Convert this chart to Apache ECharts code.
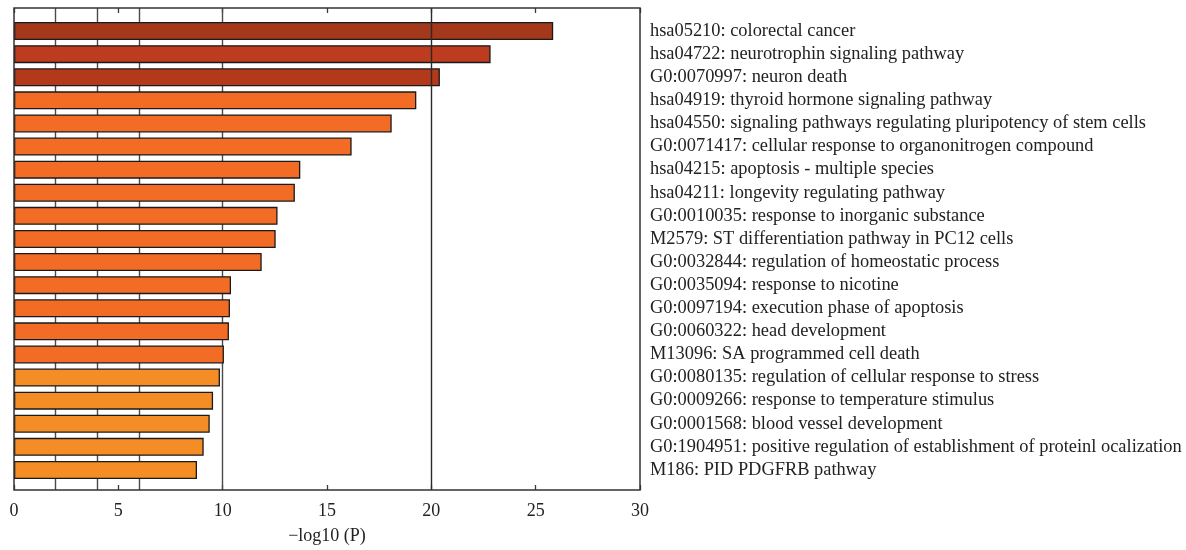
<!DOCTYPE html>
<html>
<head>
<meta charset="utf-8">
<script src="https://cdn.jsdelivr.net/npm/echarts@6/dist/echarts.min.js"></script>
<style>
  html, body { margin: 0; padding: 0; background: #fff; }
  #chart { width: 1186px; height: 550px; }
</style>
</head>
<body>
<div id="chart"></div>
<script>
// Enriched terms, top to bottom
const terms = [
  'hsa05210: colorectal cancer',
  'hsa04722: neurotrophin signaling pathway',
  'G0:0070997: neuron death',
  'hsa04919: thyroid hormone signaling pathway',
  'hsa04550: signaling pathways regulating pluripotency of stem cells',
  'G0:0071417: cellular response to organonitrogen compound',
  'hsa04215: apoptosis - multiple species',
  'hsa04211: longevity regulating pathway',
  'G0:0010035: response to inorganic substance',
  'M2579: ST differentiation pathway in PC12 cells',
  'G0:0032844: regulation of homeostatic process',
  'G0:0035094: response to nicotine',
  'G0:0097194: execution phase of apoptosis',
  'G0:0060322: head development',
  'M13096: SA programmed cell death',
  'G0:0080135: regulation of cellular response to stress',
  'G0:0009266: response to temperature stimulus',
  'G0:0001568: blood vessel development',
  'G0:1904951: positive regulation of establishment of proteinl ocalization',
  'M186: PID PDGFRB pathway'
];

// -log10(P) for each term
const logP = [25.84, 22.84, 20.41, 19.28, 18.10, 16.18, 13.72, 13.46, 12.63, 12.54,
              11.87, 10.40, 10.35, 10.30, 10.06, 9.87, 9.54, 9.38, 9.09, 8.77];

// x-axis ticks
const xTicks = [0, 5, 10, 15, 20, 25, 30];
const xName = '\u2212log10 (P)';

// reference lines across the plot
const lowLines = [2, 4, 6, 10];
const highLines = [20];

// fill colours by rank
function barColor(i) {
  if (i === 0) return '#A3381A';
  if (i === 1) return '#BD3B1E';
  if (i === 2) return '#B4391B';
  if (i < 15) return '#F36C25';
  return '#F58D26';
}

const FONT = '"Liberation Serif", "DejaVu Serif", serif';
const L = 14, R = 1186 - 640, TOP = 8, BOTTOM = 550 - 493;
const BAR_TOP = 19.5, BAR_BOTTOM = 550 - 481.5;

const chart = echarts.init(document.getElementById('chart'), null, { renderer: 'canvas' });

chart.setOption({
  animation: false,
  backgroundColor: '#fff',
  grid: [
    { left: L, right: R, top: TOP, bottom: BOTTOM, show: true, borderColor: '#333', borderWidth: 1.5, backgroundColor: 'transparent', z: 20 },
    { left: L, right: R, top: BAR_TOP, bottom: BAR_BOTTOM }
  ],
  xAxis: [
    {
      gridIndex: 0, type: 'value', position: 'bottom',
      min: xTicks[0], max: xTicks[xTicks.length - 1], interval: xTicks[1] - xTicks[0],
      axisLine: { show: false },
      axisTick: { show: true, inside: true, length: 5, lineStyle: { color: '#3a3a3a', width: 1.3 } },
      splitLine: { show: false },
      axisLabel: { margin: 12, color: '#222', fontFamily: FONT, fontSize: 18 },
      name: xName, nameLocation: 'middle', nameGap: 37,
      nameTextStyle: { color: '#222', fontFamily: FONT, fontSize: 18 }
    },
    {
      gridIndex: 0, type: 'value', position: 'top',
      min: xTicks[0], max: xTicks[xTicks.length - 1], interval: xTicks[1] - xTicks[0],
      axisLine: { show: false },
      axisTick: { show: true, inside: true, length: 5, lineStyle: { color: '#3a3a3a', width: 1.3 } },
      splitLine: { show: false },
      axisLabel: { show: false }
    },
    {
      gridIndex: 1, type: 'value',
      min: xTicks[0], max: xTicks[xTicks.length - 1],
      show: false
    }
  ],
  yAxis: [
    { gridIndex: 0, type: 'value', min: 0, max: 1, show: false },
    {
      gridIndex: 1, type: 'category', data: terms, inverse: true, position: 'right',
      axisLine: { show: false }, axisTick: { show: false }, splitLine: { show: false },
      axisLabel: { interval: 0, margin: 10, align: 'left', color: '#222', fontFamily: FONT, fontSize: 18.4 }
    }
  ],
  series: [
    {
      type: 'scatter', xAxisIndex: 0, yAxisIndex: 0, data: [], z: 1, silent: true,
      markLine: {
        z: 1, silent: true, symbol: 'none', label: { show: false },
        lineStyle: { color: '#4a4a4a', width: 1.4, type: 'solid' },
        data: lowLines.map(v => ({ xAxis: v }))
      }
    },
    {
      type: 'bar', xAxisIndex: 2, yAxisIndex: 1, z: 3,
      barWidth: 18,
      data: logP.map((v, i) => ({
        value: v,
        itemStyle: { color: barColor(i), borderColor: '#1a1a1a', borderWidth: 1.3 }
      }))
    },
    {
      type: 'scatter', xAxisIndex: 0, yAxisIndex: 0, data: [], z: 10, silent: true,
      markLine: {
        z: 10, silent: true, symbol: 'none', label: { show: false },
        lineStyle: { color: '#2a2a2a', width: 1.4, type: 'solid' },
        data: highLines.map(v => ({ xAxis: v }))
      }
    }
  ]
});
</script>
</body>
</html>
